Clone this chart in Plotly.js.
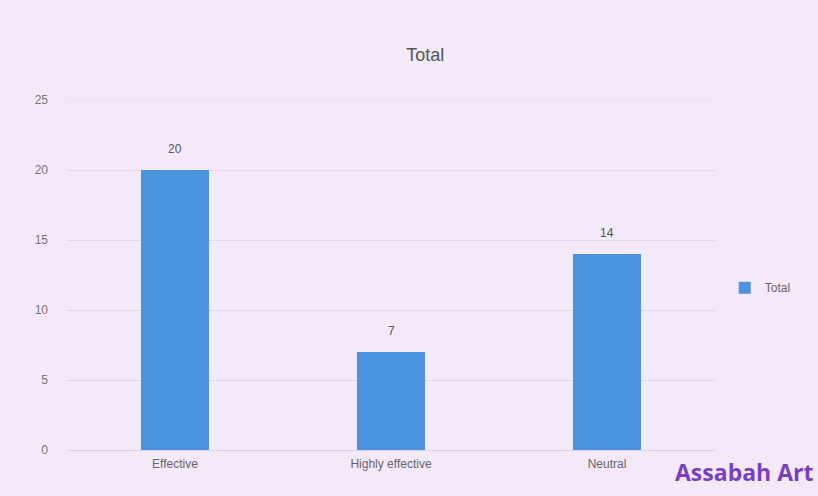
<!DOCTYPE html>
<html><head><meta charset="utf-8">
<script src="https://cdn.plot.ly/plotly-3.0.1.min.js"></script>
<style>html,body{margin:0;padding:0;background:#f3e8f7}</style>
</head><body>
<div id="chart" style="width:818px;height:496px"></div>
<script>
const categories = ["Effective", "Highly effective", "Neutral"];
const totals = [20, 7, 14];
const yTicks = [0, 5, 10, 15, 20, 25];

const trace = {
  type: "bar",
  name: "Total",
  x: categories,
  y: totals,
  marker: {color: "#4a93dd"},
  hoverinfo: "x+y"
};

const labelFont = {family: "Liberation Sans, Arial", size: 12, color: "#555"};
const dataLabels = categories.map((c, i) => ({
  x: c, y: totals[i], text: String(totals[i]), xref: "x", yref: "y",
  showarrow: false, yanchor: "bottom", yshift: 12, font: labelFont
}));

const yMax = yTicks[yTicks.length - 1];

const layout = {
  width: 818, height: 496,
  margin: {l: 67, r: 103, t: 100, b: 46, autoexpand: false},
  paper_bgcolor: "#f4e9f8",
  plot_bgcolor: "#f4e9f8",
  bargap: 0.685,
  title: {text: "Total", x: 0.52, xanchor: "center", y: 0.89, yanchor: "middle",
          font: {family: "Liberation Sans, Arial", size: 18, color: "#555"}},
  xaxis: {tickfont: {family: "Liberation Sans, Arial", size: 12, color: "#666"},
          showline: false, ticks: "", showgrid: false, ticklabelstandoff: 5},
  yaxis: {range: [0, yMax], tickvals: yTicks, ticktext: yTicks.map(String),
          tickfont: {family: "Liberation Sans, Arial", size: 12, color: "#777"},
          gridcolor: "#e2d6ea", zeroline: true, zerolinecolor: "#ddd0e6",
          ticks: "", ticklabelstandoff: 18},
  shapes: [{type: "line", xref: "paper", yref: "y", x0: 0, x1: 1, y0: yMax, y1: yMax,
            line: {color: "#e2d6ea", width: 1}, layer: "below"}],
  showlegend: true,
  legend: {xref: "container", yref: "container", x: 0.886, y: 0.42,
           xanchor: "left", yanchor: "middle", itemwidth: 30,
           font: {family: "Liberation Sans, Arial", size: 12, color: "#666"},
           bgcolor: "rgba(0,0,0,0)"},
  annotations: dataLabels.concat([{
    text: "<b>Assabah Art</b>", xref: "paper", yref: "paper",
    x: (815 - 67) / 648, y: -0.063, xanchor: "right", yanchor: "middle", showarrow: false,
    font: {family: "Open Sans, Liberation Sans", size: 23, color: "#7a3fc0"}
  }])
};

Plotly.newPlot("chart", [trace], layout, {displayModeBar: false});
</script>
</body></html>
